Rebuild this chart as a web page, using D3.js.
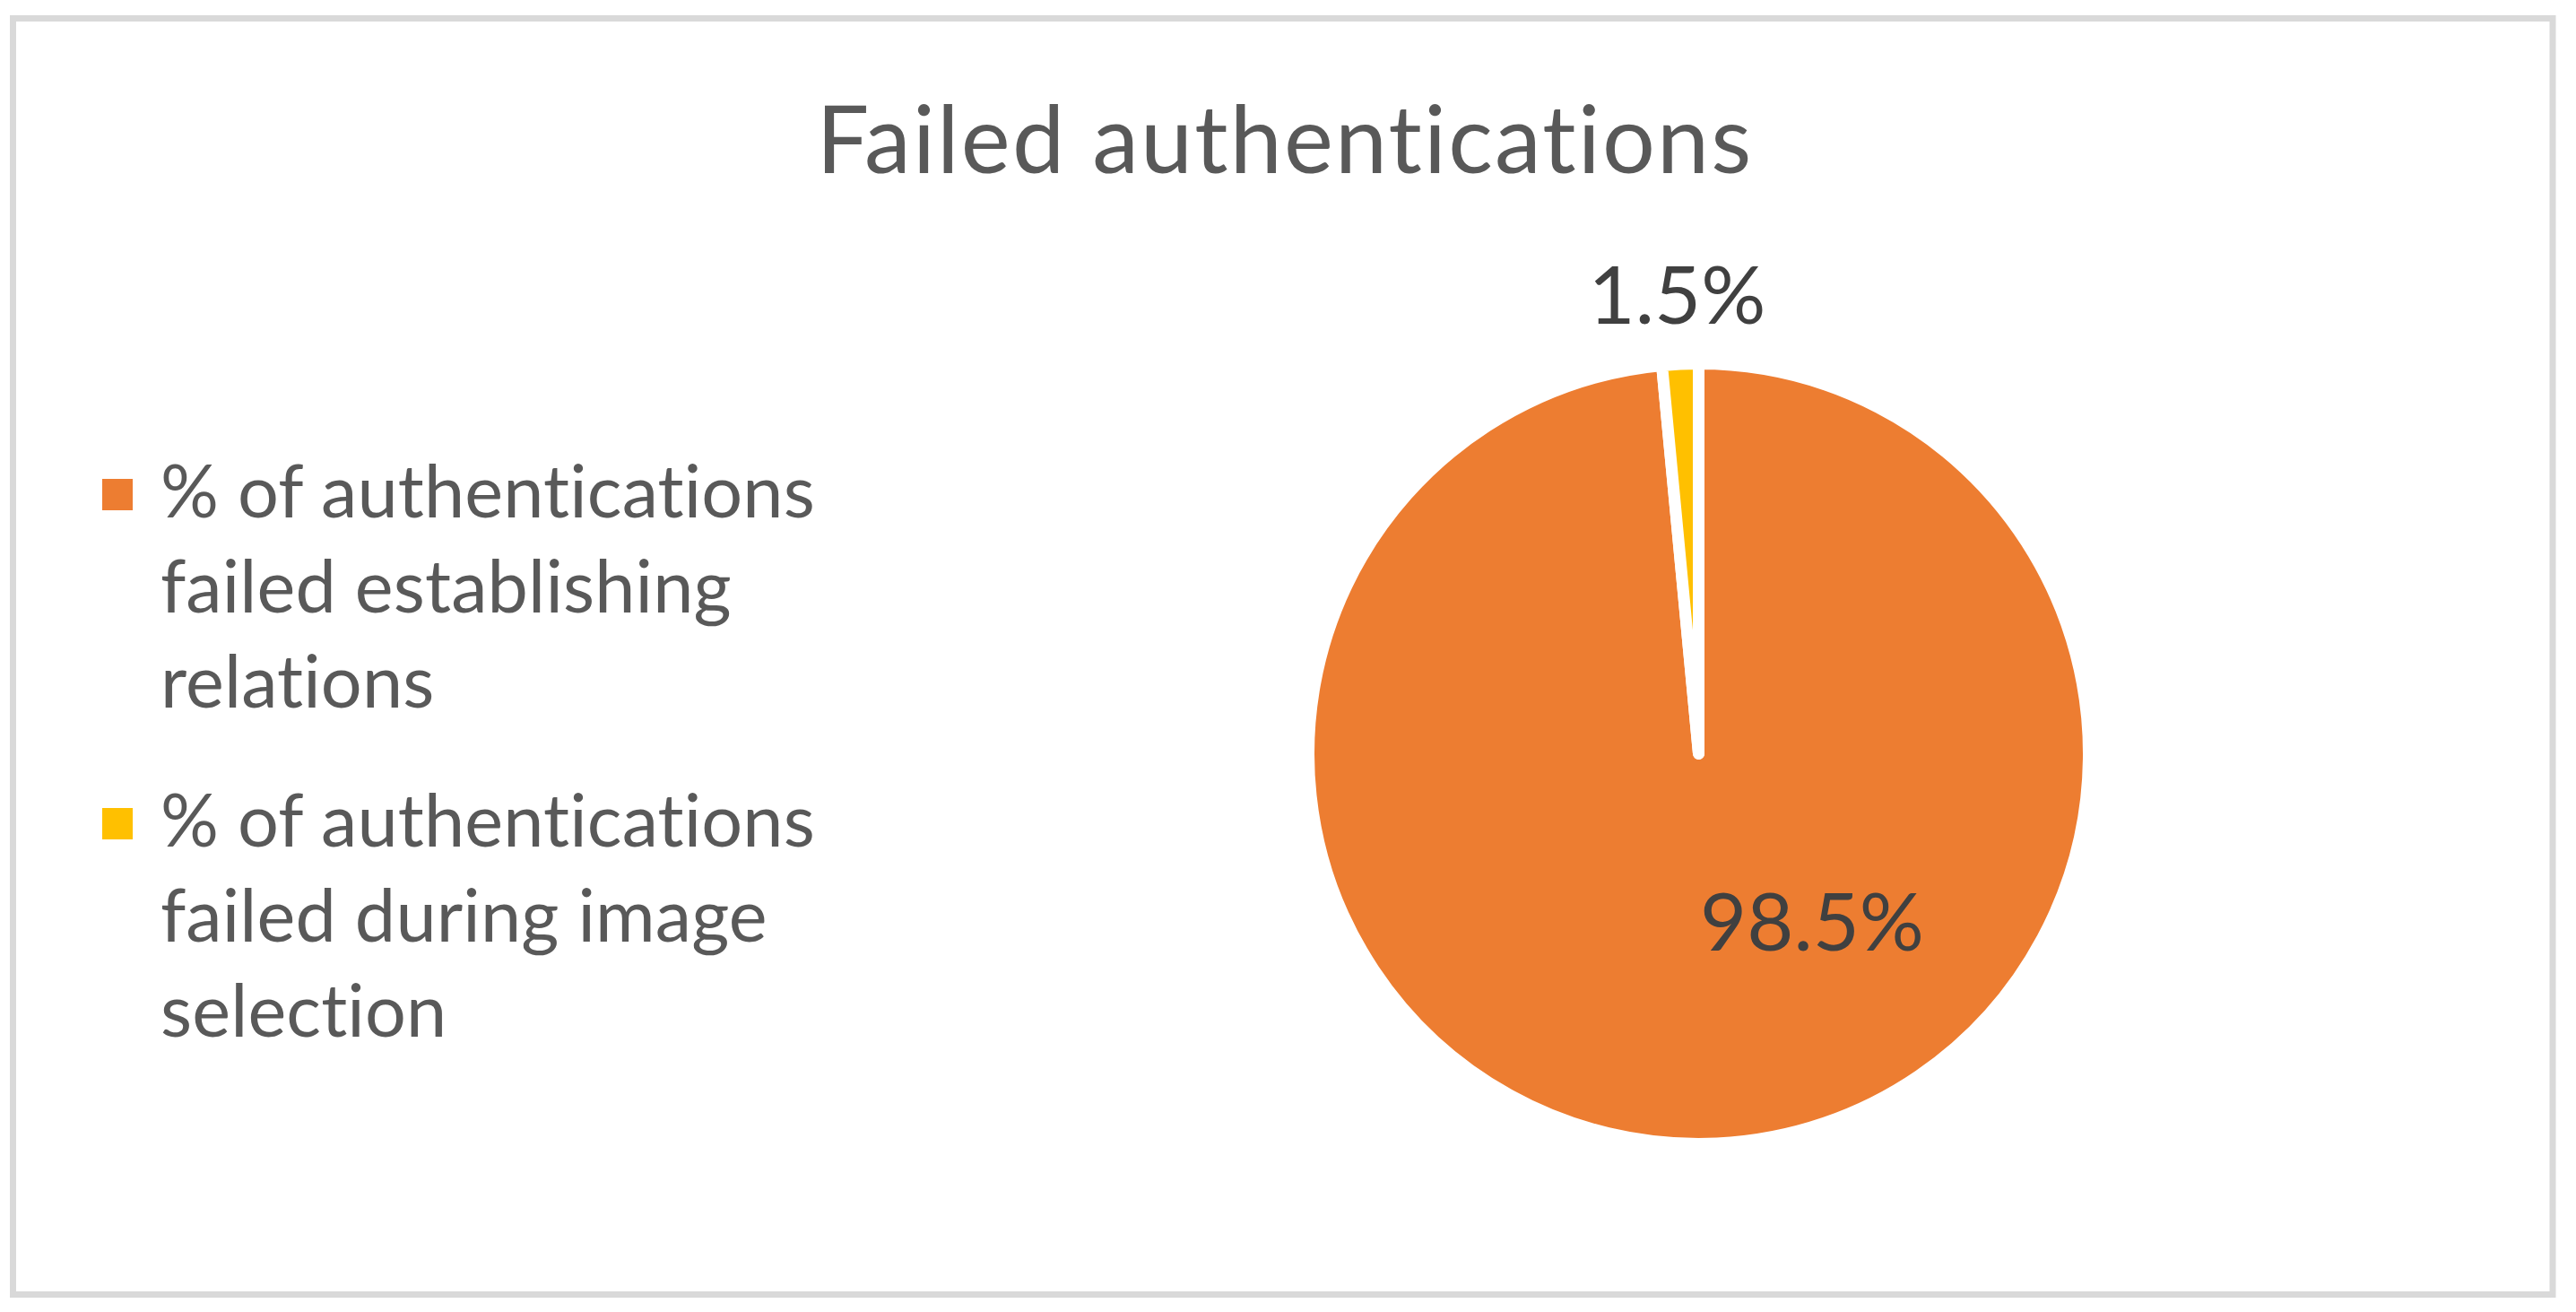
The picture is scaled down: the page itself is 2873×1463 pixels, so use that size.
<!DOCTYPE html>
<html>
<head>
<meta charset="utf-8">
<script src="https://cdn.jsdelivr.net/npm/d3@7"></script>
<style>
  body { margin: 0; background: #fff; }
  text { font-family: Lato, "Open Sans", sans-serif; font-variant-ligatures: none; }
</style>
</head>
<body>
<div id="chart"></div>
<script>
let width = 2873,
    height = 1463;

// data
let categories = ["% of authentications failed establishing relations",
                  "% of authentications failed during image selection"];
let legendLines = [["% of authentications", "failed establishing", "relations"],
                   ["% of authentications", "failed during image", "selection"]];
let values = [98.5, 1.5];
let valueLabels = ["98.5%", "1.5%"];
let colors = ["#ED7D31", "#FFC000"];

let svg = d3.select("#chart")
.append("svg")
.attr("width", width)
.attr("height", height);

// chart frame
svg.append("rect")
.attr("x", 14.5)
.attr("y", 20.5)
.attr("width", 2832.5)
.attr("height", 1423)
.attr("fill", "#fff")
.attr("stroke", "#d9d9d9")
.attr("stroke-width", 7);

svg.append("text")
.attr("x", 1433)
.attr("y", 193)
.attr("text-anchor", "middle")
.attr("fill", "#595959")
.style("font-size", "104px")
.style("letter-spacing", "2.2px")
.text("Failed authentications");

// pie
let cx = 1894.5, cy = 840.5, radius = 435;

let pie = d3.pie()
.sort(null)
.value(function(d) { return d; });

let arc = d3.arc()
.innerRadius(0)
.outerRadius(radius);

let arcs = pie(values);

let g = svg.append("g")
.attr("transform", "translate(" + cx + "," + cy + ")");

g.selectAll(".slice")
.data(arcs)
.enter().append("path")
.attr("class", "slice")
.attr("d", arc)
.attr("fill", function(d, i) { return colors[i]; })
.attr("stroke", "#fff")
.attr("stroke-width", 13)
.attr("stroke-linejoin", "round");

// label placement: big slice label inside (best fit), small one outside
let labelAngle = [146 * Math.PI / 180, null],
    labelRadius = [0.52 * radius, 1.177 * radius];

g.selectAll(".lbl")
.data(arcs)
.enter().append("text")
.attr("class", "lbl")
.attr("transform", function(d, i) {
  let a = labelAngle[i] != null ? labelAngle[i] : (d.startAngle + d.endAngle) / 2;
  let r = labelRadius[i];
  return "translate(" + (Math.sin(a) * r) + "," + (-Math.cos(a) * r) + ")";
})
.attr("text-anchor", "middle")
.attr("dy", "0.36em")
.attr("fill", "#404040")
.style("font-size", "90px")
.text(function(d, i) { return valueLabels[i]; });

// legend
let legend = svg.append("g")
.attr("class", "legend")
.selectAll("g")
.data(categories)
.enter().append("g")
.attr("transform", function(d, i) { return "translate(114," + (534 + i * 367) + ")"; });

legend.append("rect")
.attr("width", 34)
.attr("height", 35)
.attr("fill", function(d, i) { return colors[i]; });

legend.append("text")
.attr("fill", "#595959")
.style("font-size", "81px")
.style("letter-spacing", "0.15px")
.selectAll("tspan")
.data(function(d, i) { return legendLines[i]; })
.enter().append("tspan")
.attr("x", 65)
.attr("y", function(d, j) { return 43 + j * 106; })
.text(function(d) { return d; });
</script>
</body>
</html>
